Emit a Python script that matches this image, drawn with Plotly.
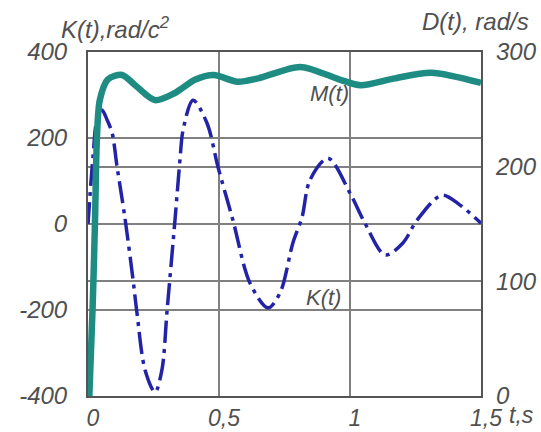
import plotly.graph_objects as go

# K(t) — angular acceleration, rad/c^2 (left axis)
k_t = [0.0, 0.019, 0.034, 0.053, 0.073, 0.092, 0.111, 0.141, 0.172, 0.187, 0.218, 0.256,
       0.282, 0.302, 0.332, 0.351, 0.363, 0.401, 0.454, 0.496, 0.553, 0.618, 0.687, 0.733,
       0.782, 0.817, 0.847, 0.916, 1.0, 1.057, 1.134, 1.202, 1.256, 1.351, 1.42, 1.5]
k_val = [0, 156, 242, 265, 242, 212, 133, 14, -130, -207, -340, -391,
         -340, -200, 9, 149, 219, 288, 235, 133, 9, -137, -195, -160,
         -44, 16, 102, 153, 72, 2, -72, -44, 9, 67, 44, 2]

# M(t) — angular velocity, rad/s (right axis)
m_t = [0.005, 0.018, 0.027, 0.034, 0.045, 0.075, 0.13, 0.18, 0.255, 0.33, 0.41, 0.48,
       0.57, 0.65, 0.81, 0.96, 1.04, 1.17, 1.31, 1.5]
m_val = [0, 80, 155, 225, 258, 276, 280, 271, 258, 264, 276, 280,
         274, 277, 287, 276, 271, 277, 282, 273]

x_ticks = [0, 0.5, 1, 1.5]
x_labels = ["0", "0,5", "1", "1,5"]
left_ticks = [-400, -200, 0, 200, 400]
left_labels = ["-400", "-200", "0", "200", "400"]
right_ticks = [0, 100, 200, 300]
right_labels = ["0", "100", "200", "300"]

FONT = "Liberation Sans, Arial, sans-serif"
TXT = "#505050"
GRID = "#808080"

fig = go.Figure()
fig.add_trace(go.Scatter(
    x=k_t, y=k_val, mode="lines", yaxis="y",
    line=dict(color="#2323a8", width=3.5, shape="spline", smoothing=0.9,
              dash="22px,6px,4px,6px"),
    showlegend=False, hoverinfo="skip"))
fig.add_trace(go.Scatter(
    x=m_t, y=m_val, mode="lines", yaxis="y2",
    line=dict(color="#1e8c82", width=6.5, shape="spline", smoothing=0.8),
    showlegend=False, hoverinfo="skip"))

tickfont = dict(family=FONT, size=24, color=TXT, style="italic")
xtickfont = dict(family=FONT, size=23, color=TXT, style="italic")

fig.update_layout(
    width=541, height=432,
    margin=dict(l=88, r=60, t=52, b=36, autoexpand=False),
    paper_bgcolor="white", plot_bgcolor="white",
    separators=", ",
    xaxis=dict(range=[0, 1.5], tickmode="array", tickvals=x_ticks, ticktext=x_labels,
               tickfont=xtickfont, showgrid=True, gridcolor=GRID, gridwidth=2,
               zeroline=False, showline=True, linecolor="#555", linewidth=2, mirror=True,
               ticks="", ticklabelstandoff=0, ticklabelshift=5, automargin=False),
    yaxis=dict(range=[-400, 400], tickmode="array", tickvals=left_ticks, ticktext=left_labels,
               tickfont=tickfont, showgrid=True, gridcolor=GRID, gridwidth=2,
               zeroline=False, showline=True, linecolor="#555", linewidth=2, mirror=True,
               ticks="", ticklabelstandoff=14, automargin=False),
    yaxis2=dict(range=[0, 300], tickmode="array", tickvals=right_ticks, ticktext=right_labels,
                tickfont=tickfont, overlaying="y", side="right",
                showgrid=True, gridcolor=GRID, gridwidth=2,
                zeroline=False, showline=False, ticks="", ticklabelstandoff=14,
                automargin=False),
    annotations=[
        dict(text="K(t),rad/c<sup>2</sup>", xref="paper", yref="paper", x=0.069, y=1.07,
             xanchor="center", yanchor="middle", showarrow=False,
             font=dict(family=FONT, size=24, color=TXT, style="italic")),
        dict(text="D(t), rad/s", xref="paper", yref="paper", x=0.985, y=1.09,
             xanchor="center", yanchor="middle", showarrow=False,
             font=dict(family=FONT, size=24, color=TXT, style="italic")),
        dict(text="t,s", xref="paper", yref="paper", x=1.104, y=-0.055,
             xanchor="center", yanchor="middle", showarrow=False,
             font=dict(family=FONT, size=23, color=TXT, style="italic")),
        dict(text="M(t)", xref="x", yref="y2", x=0.92, y=264,
             xanchor="center", yanchor="middle", showarrow=False,
             font=dict(family=FONT, size=22, color=TXT, style="italic")),
        dict(text="K(t)", xref="x", yref="y", x=0.90, y=-172,
             xanchor="center", yanchor="middle", showarrow=False,
             font=dict(family=FONT, size=22, color=TXT, style="italic")),
    ],
)

fig.write_html("out.html", config={"displayModeBar": False},
               post_script="document.body.style.margin='0';")
